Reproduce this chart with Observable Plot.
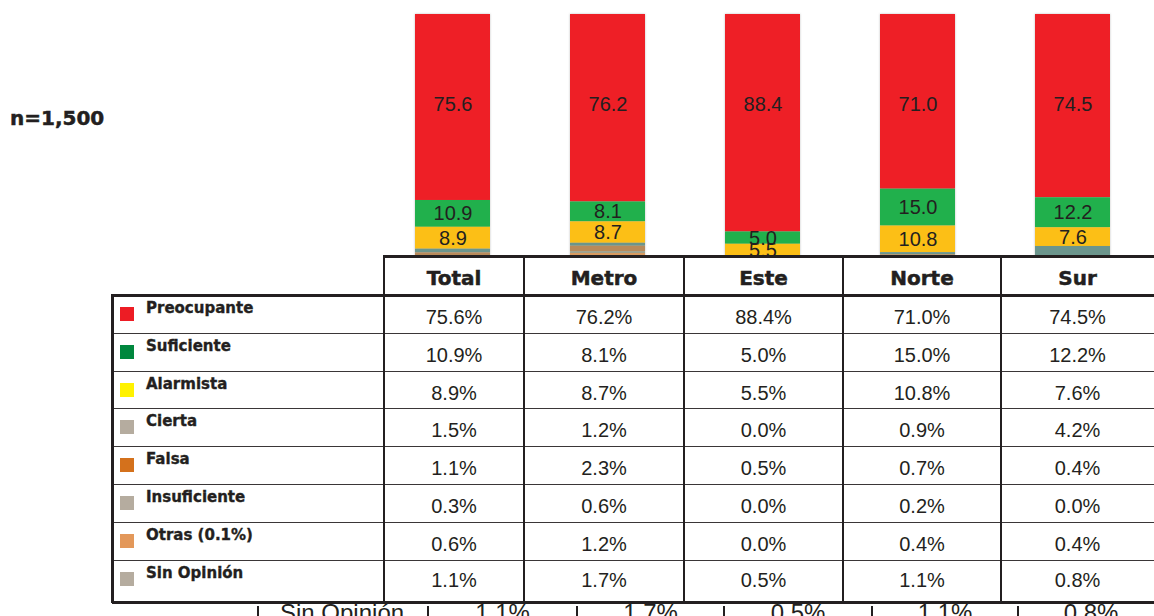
<!DOCTYPE html>
<html>
<head>
<meta charset="utf-8">
<script src="https://cdn.jsdelivr.net/npm/d3@7"></script>
<script src="https://cdn.jsdelivr.net/npm/@observablehq/plot@0.6"></script>
<style>
  html, body { margin: 0; padding: 0; background: #fff; }
  #wrap { position: relative; width: 1154px; height: 616px; overflow: hidden; background: #fff; }
  #chart { position: absolute; left: 0; top: 0; }
  .abs { position: absolute; }
  .line { position: absolute; background: #231f20; }
  .hdr { position: absolute; font-family: "DejaVu Sans", sans-serif; font-weight: bold; font-size: 20px; color: #231f20; text-align: center; -webkit-text-stroke: 0.5px #231f20; }
  .val { position: absolute; font-family: "Liberation Sans", Arial, sans-serif; font-size: 20px; color: #231f20; text-align: center; }
  .lab { position: absolute; font-family: "DejaVu Sans", sans-serif; font-weight: bold; font-size: 15px; line-height: 15px; color: #231f20; white-space: nowrap; -webkit-text-stroke: 0.35px #231f20; }
  .sw { position: absolute; width: 14px; height: 14px; }
  .ghost { position: absolute; font-family: "Liberation Sans", Arial, sans-serif; font-size: 24px; line-height: 24px; color: #231f20; white-space: nowrap; }
</style>
</head>
<body>
<div id="wrap">
  <div id="chart"></div>
  <div id="ghostRow"></div>
  <div id="table"></div>
  <div id="sample" class="abs" style="left:10px;top:108px;font-family:'DejaVu Sans',sans-serif;font-weight:bold;font-size:20px;line-height:20px;color:#231f20;-webkit-text-stroke:0.5px #231f20;"></div>
</div>
<script>
// ---------- data ----------
const regions = ["Total", "Metro", "Este", "Norte", "Sur"];
const categories = ["Preocupante", "Suficiente", "Alarmista", "Cierta", "Falsa", "Insuficiente", "Otras (0.1%)", "Sin Opinión"];
const preocupante  = [75.6, 76.2, 88.4, 71.0, 74.5];
const suficiente   = [10.9, 8.1, 5.0, 15.0, 12.2];
const alarmista    = [8.9, 8.7, 5.5, 10.8, 7.6];
const cierta       = [1.5, 1.2, 0.0, 0.9, 4.2];
const falsa        = [1.1, 2.3, 0.5, 0.7, 0.4];
const insuficiente = [0.3, 0.6, 0.0, 0.2, 0.0];
const otras        = [0.6, 1.2, 0.0, 0.4, 0.4];
const sinOpinion   = [1.1, 1.7, 0.5, 1.1, 0.8];
const labelledCategories = ["Suficiente", "Alarmista"];
const sampleLabel = "n=1,500";

// ---------- styles ----------
const barColors    = ["#ee1f26", "#21b04c", "#fcbf16", "#6b958c", "#b88a5a", "#8f9b8c", "#d99a5f", "#9aa39b"];
const legendColors = ["#ed1c24", "#00873e", "#fff200", "#b5ac9f", "#d4711c", "#b5ac9f", "#e3985a", "#b5ac9f"];

const series = [preocupante, suficiente, alarmista, cierta, falsa, insuficiente, otras, sinOpinion];
const rows = categories.flatMap((c, ci) => regions.map((r, ri) => ({category: c, region: r, value: series[ci][ri]})));
const fmt = d3.format(".1f");

const chart = Plot.plot({
  width: 1154,
  height: 616,
  marginTop: 0, marginBottom: 0, marginLeft: 0, marginRight: 0,
  x: {domain: regions, range: [373.3, 1152], paddingInner: 0.518, paddingOuter: 0.259, align: 0.5, axis: null},
  y: {domain: [0, 100], range: [14, 260], axis: null},
  color: {domain: categories, range: barColors},
  style: {background: "transparent"},
  marks: [
    Plot.barY(rows, Plot.stackY({x: "region", y: "value", fill: "category", order: categories})),
    Plot.text(rows, Plot.stackY({
      x: "region", y: "value", z: "category", order: categories,
      text: d => labelledCategories.includes(d.category) ? fmt(d.value) : null,
      fontSize: 20, fontFamily: "Liberation Sans, Arial, sans-serif", fill: "#231f20"
    })),
    Plot.text(rows.filter(d => d.category === categories[0]), {
      x: "region", y: d => 0, dy: 90, text: d => fmt(d.value),
      fontSize: 20, fontFamily: "Liberation Sans, Arial, sans-serif", fill: "#231f20"
    })
  ]
});
document.getElementById("chart").appendChild(chart);
chart.querySelectorAll('g[aria-label="bar"]').forEach(g => g.style.filter = "drop-shadow(0 0 1px rgba(0,0,0,0.25))");

document.getElementById("sample").textContent = sampleLabel;

// ---------- table ----------
const table = document.getElementById("table");
const colEdges = [384, 524, 684, 843, 1001, 1160];
const rowEdges = [295, 333, 371, 408, 446, 484, 522, 560, 602];
const headerTop = 255;
const legendLeft = 112;
const right = 1154;

function el(cls, css, text) {
  const d = document.createElement("div");
  d.className = cls;
  Object.assign(d.style, css);
  if (text != null) d.textContent = text;
  table.appendChild(d);
  return d;
}
// header background to cover bar bottoms
el("abs", {left: colEdges[0] + "px", top: headerTop + "px", width: (right - colEdges[0]) + "px", height: (rowEdges[0] - headerTop) + "px", background: "#fff"});
el("abs", {left: legendLeft + "px", top: rowEdges[0] + "px", width: (right - legendLeft) + "px", height: (rowEdges[8] - rowEdges[0]) + "px", background: "#fff"});

// horizontal lines
el("line", {left: colEdges[0] + "px", top: (headerTop) + "px", width: (right - colEdges[0]) + "px", height: "3px"});
el("line", {left: legendLeft + "px", top: (rowEdges[0] - 1) + "px", width: (right - legendLeft) + "px", height: "3px"});
for (let i = 1; i < rowEdges.length - 1; i++) {
  el("line", {left: legendLeft + "px", top: (rowEdges[i] - 0.5) + "px", width: (right - legendLeft) + "px", height: "1.5px", background: "#3a3637"});
}
el("line", {left: legendLeft + "px", top: (rowEdges[8] - 1) + "px", width: (right - legendLeft) + "px", height: "3px"});
// vertical lines
el("line", {left: (legendLeft - 1) + "px", top: (rowEdges[0] - 1) + "px", width: "2.5px", height: (rowEdges[8] - rowEdges[0] + 2) + "px"});
for (let j = 0; j < 5; j++) {
  el("line", {left: (colEdges[j] - 1.25) + "px", top: headerTop + "px", width: "2.5px", height: (rowEdges[8] - headerTop + 1) + "px"});
}
// header labels
regions.forEach((r, j) => {
  el("hdr", {left: colEdges[j] + "px", width: (Math.min(colEdges[j + 1], right) - colEdges[j]) + "px", top: (headerTop + 2) + "px", height: (rowEdges[0] - headerTop) + "px", lineHeight: (rowEdges[0] - headerTop + 2) + "px"}, r);
});
// rows
categories.forEach((c, i) => {
  const top = rowEdges[i];
  el("sw", {left: "120px", top: (top + 12) + "px", background: legendColors[i]});
  el("lab", {left: "146px", top: (top + 6) + "px"}, c);
  regions.forEach((r, j) => {
    const rt = i === categories.length - 1 ? top - 2 : top;
    el("val", {left: colEdges[j] + "px", width: (Math.min(colEdges[j + 1], right) - colEdges[j]) + "px", top: (rt + 3) + "px", height: "38px", lineHeight: "38px"}, fmt(series[i][j]) + "%");
  });
});

// ---------- partially visible row under the table ----------
const ghost = document.getElementById("ghostRow");
const ghostEdges = [258, 428, 577, 724, 872, 1018, 1164];
function gel(cls, css, text) {
  const d = document.createElement("div");
  d.className = cls; Object.assign(d.style, css);
  if (text != null) d.textContent = text;
  ghost.appendChild(d);
}
ghostEdges.slice(0, 6).forEach(x => gel("line", {left: (x - 0.75) + "px", top: "606px", width: "1.5px", height: "12px"}));
gel("ghost", {left: "280px", top: "601px"}, categories[7]);
regions.forEach((r, j) => {
  gel("ghost", {left: ghostEdges[j + 1] + "px", width: (ghostEdges[j + 2] - ghostEdges[j + 1]) + "px", top: "601px", textAlign: "center"}, fmt(sinOpinion[j]) + "%");
});
</script>
</body>
</html>
